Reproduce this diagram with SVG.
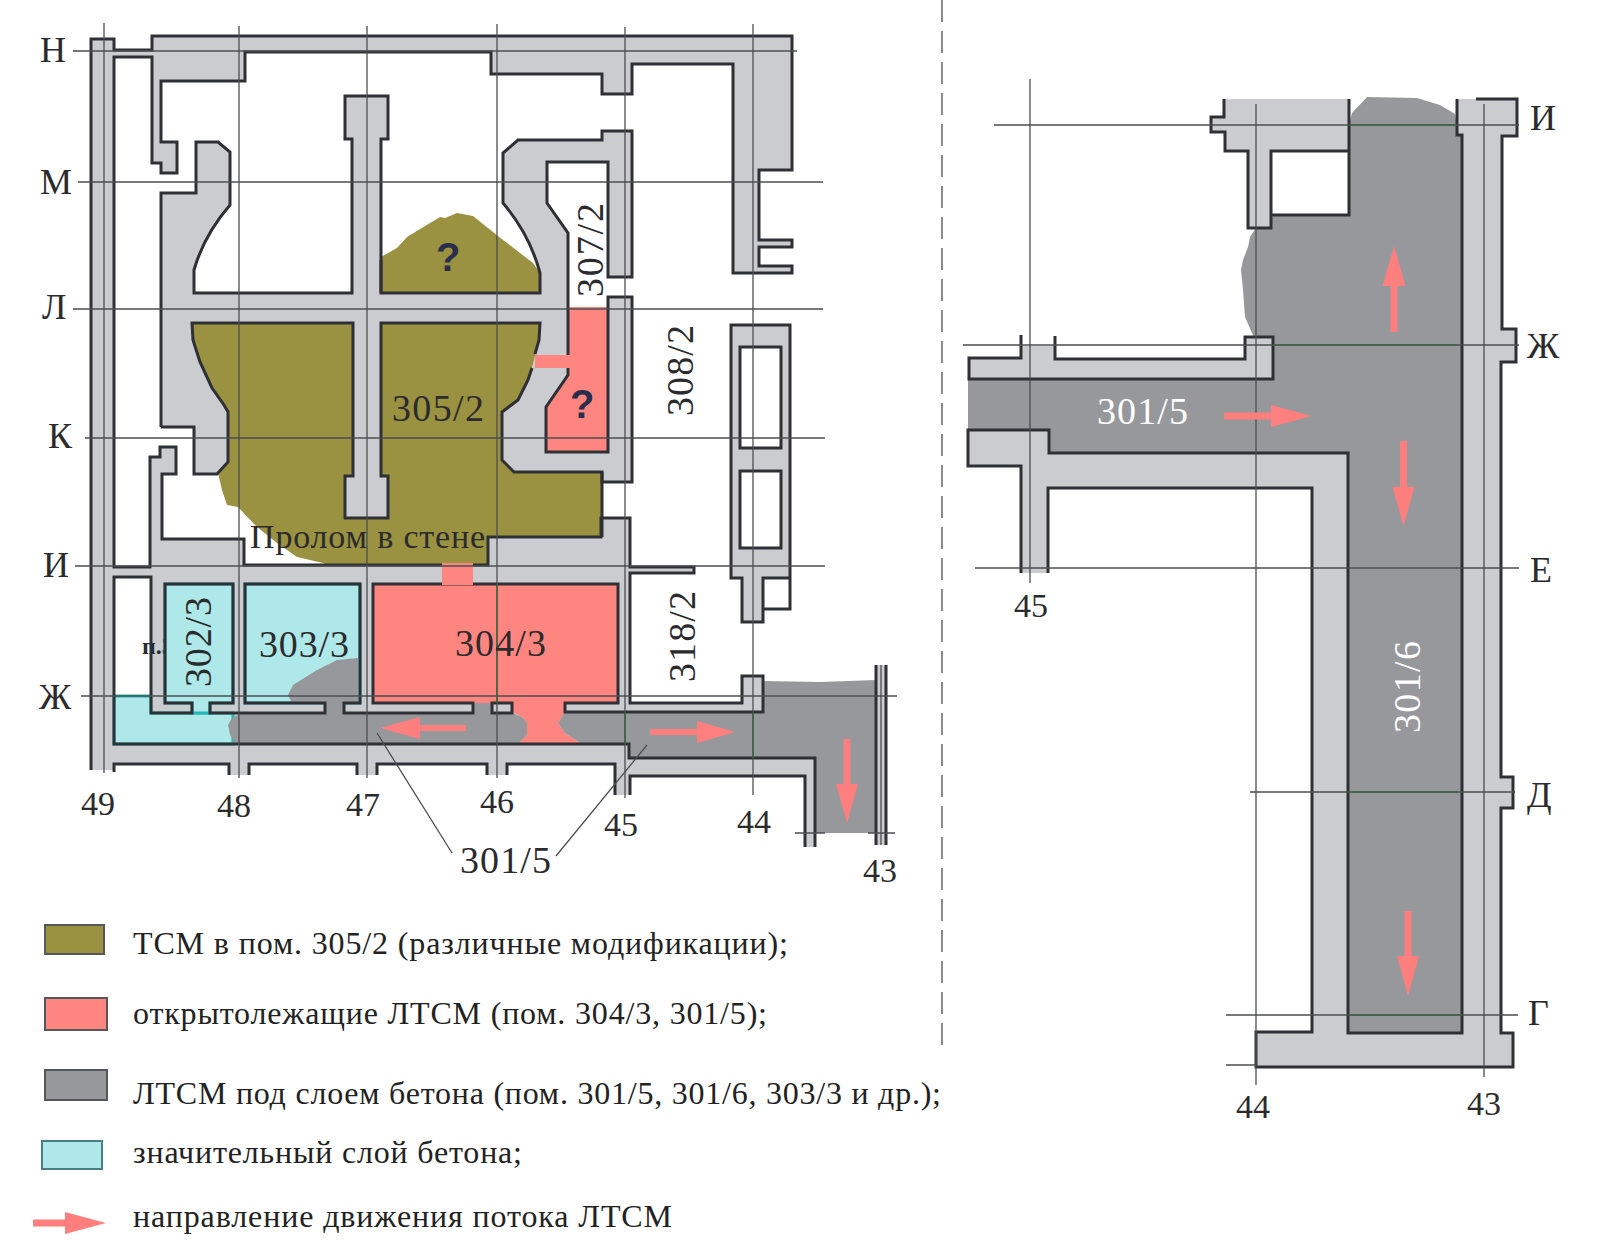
<svg xmlns="http://www.w3.org/2000/svg" width="1600" height="1258" viewBox="0 0 1600 1258">
<style>
.w{fill:#cbccd0;stroke:none}
.d{fill:#96989c;stroke:none}
.o{fill:#9a9240;stroke:none}
.r{fill:#ff8680;stroke:none}
.c{fill:#aee8e8;stroke:#22b8b8;stroke-width:3}
.wh{fill:#fff;stroke:none}
.s{fill:none;stroke:#2e3035;stroke-width:3;stroke-linejoin:miter}
.g{fill:none;stroke:#4c4e52;stroke-width:1.3}
.gg{fill:none;stroke:#2f6b35;stroke-width:1.2}
.a{fill:#ff7f7f;stroke:none}
text{font-family:"Liberation Serif","Times New Roman",serif;fill:#2b2b2d}
.l{font-size:38px}
.n{font-size:34px}
.t{font-size:36px}
.i{font-size:32px;fill:#222}
.q{font-family:"Liberation Sans",Arial,sans-serif;font-weight:700;font-size:40px;fill:#2a2e4c}
.wt{fill:#fff}
.box{stroke:#55575a;stroke-width:2}
</style>
<g id="left-plan">
<path class="w" d="M91,770V39H114V50H152V36H792V170H759V240H792V247H759V266H792V273H733V64H632V94H602V74H491V52H245V81H161V142H177V173H161V163H152V57H114V567H150V457H160V447H176V474H162V539H244V565H488V537H601V518H630V567H694V573H630V703H742V676H763V712L815,758V847H805V776H630V795H615V764H507V775H487V764H377V775H357V764H249V775H229V764H114V770Z"/>
<path class="w" d="M161,427V193H196V142H218L230,152V205Q204,235 194,270V293H352V139H345V96H388V139H381V293H540V273Q530,235 503,203V153L518,140H602V131H632V277H608V162H547V203L568,233V307H608V297H632V482H602V472H514L502,460V412L518,400L528,380L532,368L539,340L540,323H192L193,340L200,362L212,388L224,405L228,412V462L217,474H194V427Z"/>
<path class="o" d="M381,293H540V273L533,263L503,240L473,216L457,213L445,218L440,217L430,223L407,237L397,248L381,257Z"/>
<path class="o" d="M192,323H540L539,340L532,368L528,380L518,400L502,412V460L514,472H602V537H488V565H327L323,563L297,557L277,543L257,527L238,507L227,505L222,490L218,473L228,462V412L224,405L212,388L200,362L193,340Z"/>
<path class="w" d="M353,323V476H345V518H388V476H381V323Z"/>
<path class="r" d="M568,307H608V452H546V407L568,375V368H535V355H568Z"/>
<path class="wh" d="M114,577H151V696H114Z"/>
<path class="r" d="M373,584H618V703H565V712L558,723L565,733L582,744H518L527,735V723L522,717L512,712V703H373Z"/>
<text x="142" y="654" font-size="24" font-weight="700" fill="#222">п.3</text>
<path class="c" d="M114,696H151V713H233V744H114Z"/>
<path class="c" d="M165,584H233V703H210V713H192V703H165Z"/>
<path class="c" d="M245,584H360V703H245Z"/>
<path class="d" d="M358,658L337,660L317,670L293,685L288,695L292,703H325V714H240L232,718L228,725L230,735L235,744H518L527,735V723L522,717L512,713H492V703H473V714H344V703H358Z"/>
<path class="d" d="M565,712H763V681L820,682L876,680V833H815V758H629V744H582L565,733L558,723Z"/>
<rect class="w" x="876" y="665" width="10" height="180"/>
<path class="s" d="M91,770V39H114V50H152V36H792V170H759V240H792V247H759V266H792V273H733V64H632V94H602V74H491V52H245V81H161V142H177V173H161V163H152V57H114V567H150V457H160V447H176V474H162V539H244V565H488V537H601V518H630V567H694V573H630V703H742V676H763V712H565V703H618V584H373V703H473V713H344V703H360V584H245V703H325V713H210V703H233V584H165V703H192V713H151V577H114V744H629V758H815V847"/>
<path class="s" d="M805,847V776H630V795M615,795V764H507V775M487,775V764H377V775M357,775V764H249V775M229,775V764H114V772M492,703H512V713H492Z"/>
<path class="s" d="M161,427V193H196V142H218L230,152V205Q204,235 194,270V293H352V139H345V96H388V139H381V293H540V273Q530,235 503,203V153L518,140H602V131H632V277H608V162H547V203L568,233V355M568,368V375L546,407V452H608V297H632V482H602V472H514L502,460V412L518,400L528,380L532,368M535,354L539,340L540,323H381V476H388V518H345V476H353V323H192L193,340L200,362L212,388L224,405L228,412V462L217,474H194V427H161"/>
<path class="s" d="M602,472V537"/>
<path class="s" d="M381,293V260M876,665V845M886,665V845"/>
<path class="r" d="M442,563H473V585H442Z"/>
<path class="w" d="M731,325H790V578H763V622H742V578H731Z"/>
<path class="wh" d="M740,347H781V448H740ZM740,471H781V548H740Z"/>
<path class="s" d="M731,325H790V578H763V622H742V578H731ZM740,347H781V448H740ZM740,471H781V548H740ZM763,578H790V609H763"/>
</g>
<g id="left-grid">
<path class="g" d="M73,51H797M78,182H823M73,309H823M85,438H825M75,566H825M81,696H897"/>
<path class="g" d="M104,23V773M239,26V778M367,26V778M497,24V778M625,27V798M753,24V795M881,665V845M795,833H825M868,833H895"/>
<path class="gg" d="M625,713V744M753,713V758M497,584V703"/>
<path class="g" d="M377,733L452,853M647,745L556,856" stroke-width="1.6"/>
</g>
<g id="left-arrows">
<path class="a" d="M380,728L420,717V725H466V731H420V739Z"/>
<path class="a" d="M650,729H697V721L735,732L697,743V735H650Z"/>
<path class="a" d="M843.500,739H850.500V784H858L847,823L836,784H843.500Z"/>
</g>
<g id="left-labels">
<text class="t" x="40" y="62" textLength="26">Н</text>
<text class="t" x="40" y="194" textLength="33">М</text>
<text class="t" x="42" y="319" textLength="24">Л</text>
<text class="t" x="48" y="448" textLength="24">К</text>
<text class="t" x="43" y="577" textLength="25">И</text>
<text class="t" x="39" y="709" textLength="33">Ж</text>
<text class="n" x="81" y="815">49</text>
<text class="n" x="217" y="817">48</text>
<text class="n" x="346" y="816">47</text>
<text class="n" x="480" y="813">46</text>
<text class="n" x="604" y="836">45</text>
<text class="n" x="737" y="833">44</text>
<text class="n" x="863" y="882">43</text>
<text class="l" x="392" y="421" textLength="92">305/2</text>
<text class="l" x="259" y="657" textLength="90">303/3</text>
<text class="l" x="455" y="656" textLength="91">304/3</text>
<text class="l" x="460" y="873" textLength="91">301/5</text>
<text class="l" transform="translate(603,297) rotate(-90)" textLength="94">307/2</text>
<text class="l" transform="translate(693,416) rotate(-90)" textLength="91">308/2</text>
<text class="l" transform="translate(695,682) rotate(-90)" textLength="91">318/2</text>
<text class="l" transform="translate(211,687) rotate(-90)" textLength="90">302/3</text>
<text x="250" y="548" font-size="34" textLength="235">Пролом в стене</text>
<text class="q" x="436" y="271">?</text>
<text class="q" x="570" y="418">?</text>
</g>
<path class="g" d="M942,0V1051" stroke-dasharray="22 9" stroke-width="1.6"/>
<g id="right-plan">
<path class="d" d="M1349,125L1352,113L1367,97L1417,98L1440,105L1455,114L1457,125V135H1462V1033H1348V453H1049V430H968V379H1273V337H1254L1252,333L1245,317L1243,290L1241,270L1243,260L1248,247L1250,237L1256,228H1271V215H1349Z"/>
<path class="w" d="M1224,99H1349V151H1271V228H1248V151H1225V132H1211V117H1224Z"/>
<path class="w" d="M1457,99H1517V136H1502V329H1516V362H1501V777H1513V808H1501V1033H1513V1067H1256V1032H1312V488H1048V573H1021V466H968V430H1049V453H1348V1033H1462V135H1457Z"/>
<path class="w" d="M969,358H1021V346H1055V359H1245V337H1273V379H968Z"/>
<path class="s" d="M1224,99V117H1211V132H1225V151H1248V228H1271V151H1349V99M1271,215H1349V151"/>
<path class="s" d="M1457,99V135H1462V1033H1348V453H1049V430H968V466H1021V573M1048,573V488H1312V1032H1256V1067H1513V1033H1501V808H1513V777H1501V362H1516V329H1502V136H1517V99H1476"/>
<path class="s" d="M1021,335V358H969V379H1273V337H1245V359H1055V336"/>
</g>
<g id="right-grid">
<path class="g" d="M994,125H1519M963,345H1519M975,568H1519M1250,792H1515M1226,1015H1518M1226,1065H1256"/>
<path class="g" d="M1030,79V583M1256,104V1085M1484,104V1077"/>
<path class="gg" d="M1349,125H1457M1273,345H1457M1349,792H1462M1349,1015H1462"/>
</g>
<g id="right-arrows">
<path class="a" d="M1390.500,332V286H1382.500L1394,246L1405.500,286H1397.500V332Z"/>
<path class="a" d="M1224,412.500H1271V405L1312,416L1271,427V419.500H1224Z"/>
<path class="a" d="M1400,441H1407V487H1414.500L1403.500,526L1392.500,487H1400Z"/>
<path class="a" d="M1404.500,911H1411.500V956H1419L1408,996L1397,956H1404.500Z"/>
</g>
<g id="right-labels">
<text class="t" x="1530" y="130" textLength="25">И</text>
<text class="t" x="1527" y="358" textLength="33">Ж</text>
<text class="t" x="1530" y="582" textLength="22">Е</text>
<text class="t" x="1527" y="807" textLength="26">Д</text>
<text class="t" x="1528" y="1025" textLength="21">Г</text>
<text class="n" x="1014" y="617">45</text>
<text class="n" x="1236" y="1118">44</text>
<text class="n" x="1467" y="1115">43</text>
<text class="l wt" x="1097" y="424" textLength="91">301/5</text>
<text class="l wt" transform="translate(1420,733) rotate(-90)" textLength="92">301/6</text>
</g>
<g id="legend">
<rect class="o box" x="45" y="925" width="59" height="29"/>
<rect class="r box" x="45" y="998" width="62" height="32"/>
<rect class="d box" x="45" y="1070" width="62" height="30"/>
<rect x="42" y="1141" width="60" height="28" fill="#aee8e8" stroke="#4b7f86" stroke-width="2"/>
<path class="a" d="M33,1219.500H65V1212L106,1223L65,1234V1226.500H33Z"/>
<text class="i" x="133" y="954" textLength="655">ТСМ в пом. 305/2 (различные модификации);</text>
<text class="i" x="133" y="1024" textLength="634">открытолежащие ЛТСМ (пом. 304/3, 301/5);</text>
<text class="i" x="133" y="1104" textLength="808">ЛТСМ под слоем бетона (пом. 301/5, 301/6, 303/3 и др.);</text>
<text class="i" x="133" y="1163" textLength="389">значительный слой бетона;</text>
<text class="i" x="133" y="1227" textLength="539">направление движения потока ЛТСМ</text>
</g>
</svg>
